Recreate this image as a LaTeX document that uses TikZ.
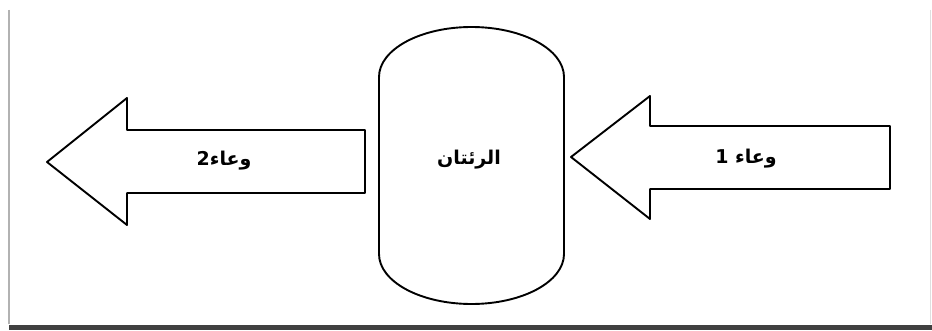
\documentclass[tikz,border=0pt]{standalone}
\usepackage{fontspec}
\newfontfamily\arabicfont[Script=Arabic]{DejaVu Sans}
\TeXXeTstate=1
\tikzset{
  shapeline/.style={draw=black, line width=1.9pt, line join=round, fill=white},
  lbl/.style={font=\arabicfont\bfseries\fontsize{19}{22}\selectfont, inner sep=0pt},
}
\begin{document}
\begin{tikzpicture}[x=1pt,y=1pt]
\useasboundingbox (0,0) rectangle (932,330);
\fill[white] (0,0) rectangle (932,330);
% frame
\draw[gray!60, line width=1.2pt] (9,320) -- (9,6);
\draw[black!75, line width=5pt] (9,3) -- (932,3);
\draw[gray!25, line width=0.8pt] (930,320) -- (930,6);
% left arrow (outgoing)
\draw[shapeline] (47,168) -- (127,232) -- (127,200) -- (365,200) -- (365,137) -- (127,137) -- (127,105) -- cycle;
% right arrow (incoming)
\draw[shapeline] (571,173) -- (650,234) -- (650,204) -- (890,204) -- (890,141) -- (650,141) -- (650,111) -- cycle;
% capsule
\draw[shapeline] (379,253) arc[start angle=180, end angle=0, x radius=92.5, y radius=50]
  -- (564,76) arc[start angle=0, end angle=-180, x radius=92.5, y radius=50] -- cycle;
% labels
\node[lbl] (lungs) at (469,170) {\beginR الرئتان\endR};
\node[lbl] (v1) at (746,171) {\beginR وعاء 1\endR};
\node[lbl] (v2) at (224,169) {\beginR وعاء2\endR};
\end{tikzpicture}
\end{document}
